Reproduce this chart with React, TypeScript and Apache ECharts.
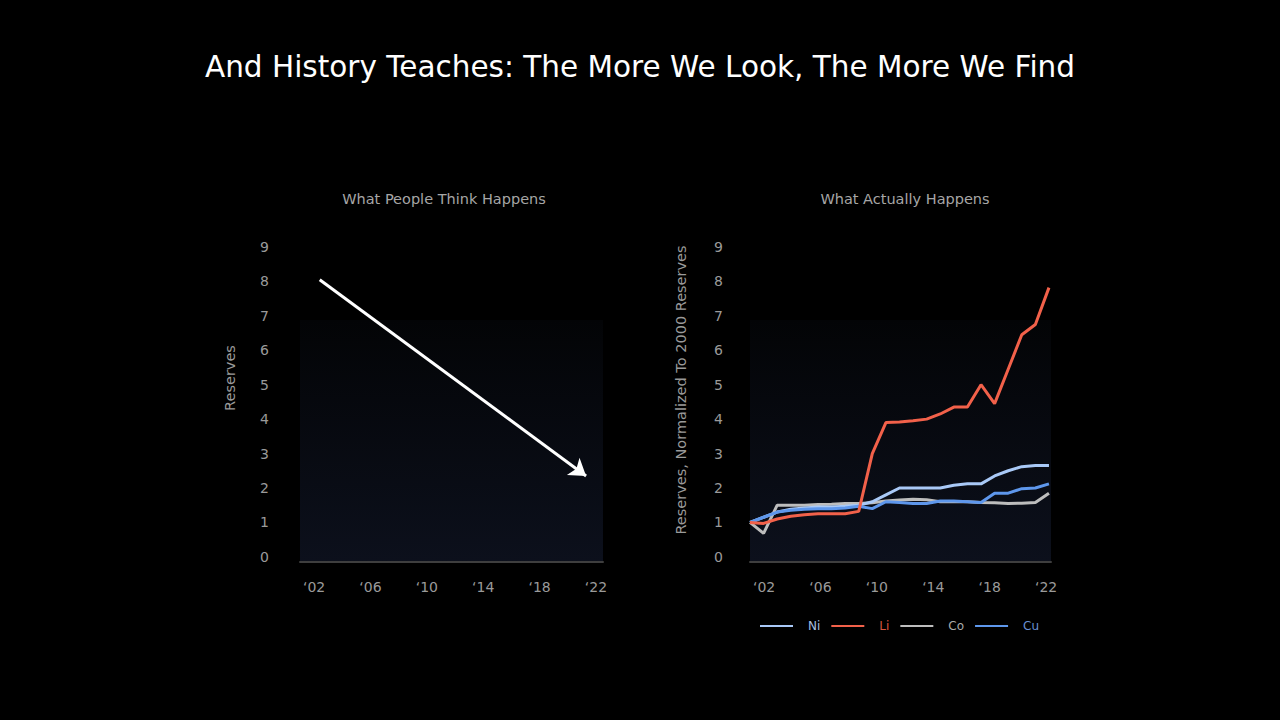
import React, { useEffect, useRef } from "react";
import * as echarts from "echarts";

const years = [2000, 2001, 2002, 2003, 2004, 2005, 2006, 2007, 2008, 2009, 2010, 2011, 2012, 2013, 2014, 2015, 2016, 2017, 2018, 2019, 2020, 2021, 2022];
const niValues = [1.0, 1.15, 1.3, 1.38, 1.42, 1.45, 1.45, 1.47, 1.5, 1.6, 1.8, 2.0, 2.0, 2.0, 2.0, 2.08, 2.12, 2.12, 2.35, 2.5, 2.62, 2.65, 2.65];
const liValues = [1.0, 0.97, 1.1, 1.18, 1.22, 1.25, 1.25, 1.25, 1.32, 3.0, 3.9, 3.92, 3.95, 4.0, 4.15, 4.35, 4.35, 5.0, 4.45, 5.45, 6.45, 6.75, 7.82];
const coValues = [1.0, 0.68, 1.5, 1.5, 1.5, 1.52, 1.53, 1.55, 1.55, 1.57, 1.62, 1.65, 1.67, 1.66, 1.6, 1.6, 1.6, 1.58, 1.57, 1.55, 1.56, 1.58, 1.85];
const cuValues = [1.0, 1.15, 1.3, 1.35, 1.38, 1.4, 1.4, 1.42, 1.47, 1.4, 1.6, 1.58, 1.55, 1.55, 1.62, 1.62, 1.6, 1.58, 1.85, 1.85, 1.98, 2.0, 2.12];
const tickYears = [2002, 2006, 2010, 2014, 2018, 2022];
const yTicks = [0, 1, 2, 3, 4, 5, 6, 7, 8, 9];
const arrowPoints = [[2002.4, 8.05], [2021.3, 2.35]];

const mainTitle = "And History Teaches: The More We Look, The More We Find";
const leftTitle = "What People Think Happens";
const rightTitle = "What Actually Happens";
const leftYName = "Reserves";
const rightYName = "Reserves, Normalized To 2000 Reserves";

const FONT = "DejaVu Sans";
const colors = { Ni: "#a9c9f7", Li: "#f2614a", Co: "#bdbdbd", Cu: "#5e97ec" };
const legendText = { Ni: "#a8bfe0", Li: "#d9553f", Co: "#aaaaaa", Cu: "#6a90d0" };

const yearFmt = (v: number) => "\u2018" + String(v).slice(2);

export default function App() {
  const ref = useRef<HTMLDivElement>(null);
  useEffect(() => {
    const chart = echarts.init(ref.current!, null, { renderer: "svg" });
    const gridBg = new echarts.graphic.LinearGradient(0, 0, 0, 1, [
      { offset: 0, color: "rgba(0,0,0,0)" },
      { offset: 0.23, color: "rgba(0,0,0,0)" },
      { offset: 0.231, color: "#030406" },
      { offset: 1, color: "#0c101c" },
    ]);
    const xLabelAxis = (gridIndex: number, max: number) => ({
      type: "value",
      gridIndex,
      min: 2001,
      max,
      axisLine: { show: true, onZero: false, lineStyle: { color: "#3e3e3e", width: 2 } },
      axisTick: { show: false },
      splitLine: { show: false },
      axisLabel: { customValues: tickYears, formatter: yearFmt, color: "#9a9a9a", fontSize: 14, fontFamily: FONT, margin: 18 },
    });
    const yAxis = (gridIndex: number, margin: number) => ({
      type: "value",
      gridIndex,
      min: -0.15,
      max: 9,
      axisLine: { show: false },
      axisTick: { show: false },
      splitLine: { show: false },
      axisLabel: { customValues: yTicks, color: "#9a9a9a", fontSize: 14, fontFamily: FONT, margin },
    });
    const lineSeries = (name: keyof typeof colors, values: number[], z: number) => ({
      name,
      type: "line",
      xAxisIndex: 2,
      yAxisIndex: 1,
      showSymbol: false,
      z,
      data: years.map((y, i) => [y, values[i]]),
      lineStyle: { color: colors[name], width: 3 },
      itemStyle: { color: colors[name] },
    });
    chart.setOption({
      animation: false,
      backgroundColor: "#000000",
      textStyle: { fontFamily: FONT },
      title: [
        { text: mainTitle, left: "center", top: 47, textStyle: { color: "#ffffff", fontSize: 29.5, fontWeight: "normal", fontFamily: FONT } },
        { text: leftTitle, left: 439, textAlign: "center", top: 186, textStyle: { color: "#a6a6a6", fontSize: 14.5, fontWeight: "normal", fontFamily: FONT } },
        { text: rightTitle, left: 900, textAlign: "center", top: 186, textStyle: { color: "#a6a6a6", fontSize: 14.5, fontWeight: "normal", fontFamily: FONT } },
      ],
      grid: [
        { left: 300, right: 677, top: 247, bottom: 158, show: true, borderWidth: 0, backgroundColor: gridBg },
        { left: 750, right: 229, top: 247, bottom: 158, show: true, borderWidth: 0, backgroundColor: gridBg },
      ],
      xAxis: [
        xLabelAxis(0, 2022.5),
        xLabelAxis(1, 2022.35),
        { type: "value", gridIndex: 1, min: 2000, max: 2022.15, show: false },
      ],
      yAxis: [yAxis(0, 31), yAxis(1, 27)],
      legend: {
        left: 755,
        top: 615,
        icon: "rect",
        itemWidth: 33,
        itemHeight: 2,
        itemGap: 11,
        data: (["Ni", "Li", "Co", "Cu"] as const).map((n) => ({ name: n, textStyle: { color: legendText[n] } })),
        textStyle: { fontSize: 12, fontFamily: FONT, width: 14, padding: [0, 0, 0, 10] },
      },
      graphic: [
        { type: "text", x: 230, y: 378, rotation: Math.PI / 2, style: { text: leftYName, fill: "#9a9a9a", fontSize: 14.5, fontFamily: FONT, align: "center", verticalAlign: "middle" } },
        { type: "text", x: 681, y: 390, rotation: Math.PI / 2, style: { text: rightYName, fill: "#9a9a9a", fontSize: 14.5, fontFamily: FONT, align: "center", verticalAlign: "middle" } },
      ],
      series: [
        {
          type: "lines",
          coordinateSystem: "cartesian2d",
          xAxisIndex: 0,
          yAxisIndex: 0,
          symbol: ["none", "arrow"],
          symbolSize: 16,
          lineStyle: { color: "#ffffff", width: 3, opacity: 1 },
          data: [{ coords: arrowPoints }],
        },
        lineSeries("Co", coValues, 2),
        lineSeries("Ni", niValues, 3),
        lineSeries("Cu", cuValues, 4),
        lineSeries("Li", liValues, 5),
      ],
    });
    return () => chart.dispose();
  }, []);
  return <div ref={ref} style={{ position: "fixed", left: 0, top: 0, width: 1280, height: 720, background: "#000" }} />;
}
